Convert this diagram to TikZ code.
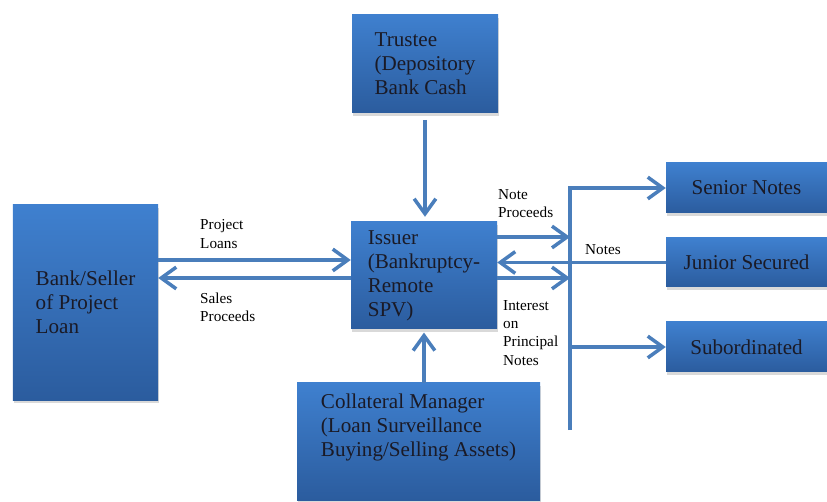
\documentclass[tikz,border=0pt]{standalone}
\usepackage{fontspec}
\setmainfont{Liberation Serif}
\usetikzlibrary{arrows.meta,positioning,shadows}
\definecolor{boxtop}{HTML}{3F80CF}
\definecolor{boxbot}{HTML}{2B5C9E}
\definecolor{flowblue}{HTML}{4A7EBB}
\definecolor{ink}{HTML}{1A1A26}

\begin{document}
\begin{tikzpicture}[x=0.3mm,y=-0.3mm,
  >={Straight Barb[length=4.5mm,width=6.5mm]},
  blk/.style={top color=boxtop,bottom color=boxbot,draw=none,text=ink,
    font=\fontsize{18}{20.5}\selectfont,align=left,
    drop shadow={shadow xshift=0.4mm,shadow yshift=-1mm,opacity=0.3}},
  lbl/.style={font=\fontsize{13}{15.5}\selectfont,align=left,anchor=west,
    inner sep=0pt,text=black},
  flow/.style={line width=3pt,draw=flowblue}]
  \useasboundingbox (0,0) rectangle (827,502);

  % boxes
  \node[blk,minimum width=43.5mm,minimum height=58.5mm] (bank) at (85.5,302.5)
    {Bank/Seller\\of Project\\Loan};
  \node[blk,minimum width=43.8mm,minimum height=29.4mm] (trustee) at (425,64)
    {Trustee\\(Depository\\Bank Cash};
  \node[blk,minimum width=43.8mm,minimum height=32.1mm] (issuer) at (424,275.5)
    {Issuer\\(Bankruptcy-\\Remote\\SPV)};
  \node[blk,minimum width=72.9mm,minimum height=35.1mm,text depth=10mm] (collat) at (418.5,441.5)
    {Collateral Manager\\(Loan Surveillance\\Buying/Selling Assets)};
  \node[blk,minimum width=48.3mm,minimum height=15mm] (senior) at (746.5,188) {Senior Notes};
  \node[blk,minimum width=48.3mm,minimum height=14.7mm] (junior) at (746.5,262.5) {Junior Secured};
  \node[blk,minimum width=48.3mm,minimum height=15mm] (subord) at (746.5,347) {Subordinated};

  % bank <-> issuer
  \draw[flow,->] ([yshift=4.65mm]issuer.west -| bank.east) -- ([yshift=4.65mm]issuer.west);
  \draw[flow,->] ([yshift=-0.75mm]issuer.west) -- ([yshift=-0.75mm]issuer.west -| bank.east);
  \node[lbl] (loanlbl) at (200,234) {Project\\Loans};
  \node[lbl] (saleslbl) at (200,307.5) {Sales\\Proceeds};

  % trustee and manager
  \draw[flow,->,shorten <=2mm,shorten >=1.5mm] (trustee.south) -- (trustee.south |- issuer.north);
  \draw[flow,->,shorten >=1mm] (issuer.south |- collat.north) -- (issuer.south);

  % notes bus
  \coordinate (busbot) at (570,430);
  \coordinate (np) at (570,237);
  \coordinate (ip) at (570,278);
  \draw[flow,->] (busbot) |- (senior.west);
  \draw[flow,->] (busbot |- subord.west) -- (subord.west);
  \draw[flow,->] (junior.west) -- (junior.west -| issuer.east);
  \draw[flow,->] (issuer.east |- np) -- (np);
  \draw[flow,->] (issuer.east |- ip) -- (ip);
  \node[lbl] (notelbl) at (498,204) {Note\\Proceeds};
  \node[lbl] (noteslbl) at (585,250) {Notes};
  \node[lbl] (intlbl) at (503,333) {Interest\\on\\Principal\\Notes};
\end{tikzpicture}
\end{document}
